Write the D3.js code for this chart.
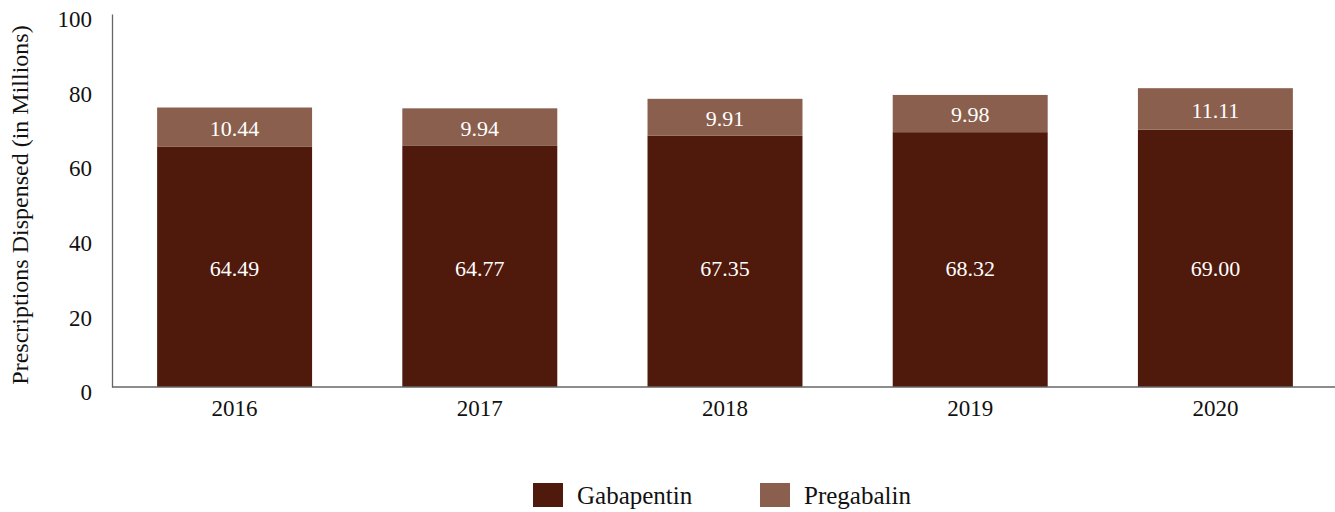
<!DOCTYPE html>
<html><head><meta charset="utf-8">
<script src="https://cdn.jsdelivr.net/npm/d3@7"></script>
<style>body{margin:0;background:#fff}svg{display:block}svg text{font-family:'Liberation Serif','Times New Roman',serif !important}</style>
</head><body>
<svg id="c" width="1335" height="512"></svg>
<script>
const years = ["2016","2017","2018","2019","2020"];
const gabapentin = [64.49, 64.77, 67.35, 68.32, 69.00];
const pregabalin = [10.44, 9.94, 9.91, 9.98, 11.11];
const yTicks = [0, 20, 40, 60, 80, 100];
const seriesNames = ["Gabapentin", "Pregabalin"];
const colors = ["#4f1a0c", "#8a5f4d"];
const FONT = "'Liberation Serif', 'Times New Roman', serif";

const svg = d3.select("#c").attr("font-family", FONT);
const x = d3.scaleBand().domain(years).range([112, 1338]).paddingInner(0.368).paddingOuter(0.184);
const y = d3.scaleLinear().domain([0, 100]).range([387, 14]);

const rows = years.map((yr, i) => ({year: yr, Gabapentin: gabapentin[i], Pregabalin: pregabalin[i]}));
const stack = d3.stack().keys(seriesNames)(rows);

svg.append("g").selectAll("g").data(stack).join("g")
  .attr("fill", (d, i) => colors[i])
  .selectAll("rect").data(d => d).join("rect")
  .attr("x", d => x(d.data.year))
  .attr("width", x.bandwidth())
  .attr("y", d => y(d[1]))
  .attr("height", d => y(d[0]) - y(d[1]));

// value labels: bottom segment labels share a common height; top segment labels are centered
const lowLabelValue = d3.min(gabapentin) / 2 - 0.4;
svg.append("g").selectAll("g").data(stack).join("g")
  .selectAll("text").data((d, si) => d.map(v => ({v, key: d.key, si}))).join("text")
  .attr("x", d => x(d.v.data.year) + x.bandwidth() / 2)
  .attr("y", d => d.si === 0 ? y(lowLabelValue) : y((d.v[0] + d.v[1]) / 2) + 1)
  .attr("dy", "0.35em")
  .attr("text-anchor", "middle")
  .attr("fill", "#fff")
  .attr("font-family", FONT)
  .attr("font-size", 22)
  .text(d => d.v.data[d.key].toFixed(2));

// axes
const yAxis = svg.append("g").attr("transform", "translate(112,0)")
  .call(d3.axisLeft(y).tickValues(yTicks).tickSize(0).tickPadding(20));
yAxis.attr("font-family", FONT);
yAxis.select(".domain").attr("stroke", "#666").attr("stroke-width", 1.3);
yAxis.selectAll("text").attr("font-size", 23).attr("font-family", FONT).attr("fill", "#111").attr("dy", "0.55em");

const xAxis = svg.append("g").attr("transform", "translate(0,387)")
  .call(d3.axisBottom(x).tickSize(0).tickPadding(13));
xAxis.attr("font-family", FONT);
xAxis.select(".domain").attr("stroke", "#666").attr("stroke-width", 1.3).attr("d", "M112,0H1335");
xAxis.selectAll("text").attr("font-size", 23).attr("font-family", FONT).attr("fill", "#111");

svg.append("text")
  .attr("transform", "translate(28,205) rotate(-90)")
  .attr("text-anchor", "middle")
  .attr("font-family", FONT)
  .attr("font-size", 24)
  .attr("fill", "#111")
  .text("Prescriptions Dispensed (in Millions)");

// legend
const legX = [533, 760];
const leg = svg.append("g").selectAll("g").data(seriesNames).join("g")
  .attr("transform", (d, i) => `translate(${legX[i]},483)`);
leg.append("rect").attr("width", 30).attr("height", 24).attr("fill", (d, i) => colors[i]);
leg.append("text").attr("x", 44).attr("y", 12).attr("dy", "0.35em")
  .attr("font-family", FONT)
  .attr("font-size", 25).attr("fill", "#111").text(d => d);
</script>
</body></html>
